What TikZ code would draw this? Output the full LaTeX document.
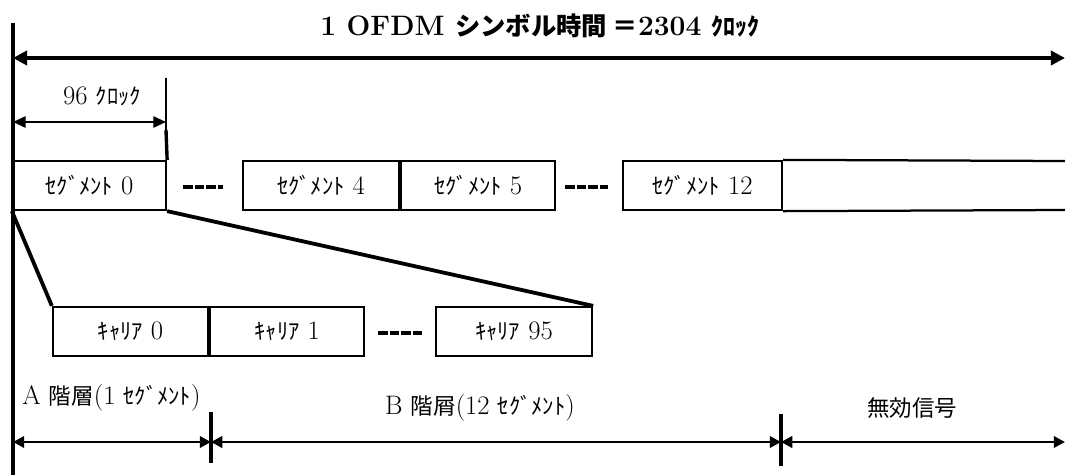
\documentclass[tikz,border=0pt]{standalone}
\usepackage{fontspec}
\newfontfamily\jpfont{Noto Sans CJK JP}
\usetikzlibrary{arrows.meta}
\tikzset{cell/.style = {draw, line width = 1.6pt, minimum height = 1.225cm, inner sep = 0, font = \fontsize{19}{21}\selectfont}}
\tikzset{lbl/.style = {inner sep = 0, font = \fontsize{19}{21}\selectfont}}
\tikzset{dots/.style = {line width = 2.6pt, dash pattern = on 7pt off 1.2pt}}
\tikzset{heavy/.style = {line width = 2.7pt}}
\tikzset{dimline/.style = {line width = 2pt, {Triangle[length = 8pt, width = 8pt]}-{Triangle[length = 8pt, width = 8pt]}}}
\newcommand{\segtxt}[1]{{\jpfont\fontsize{16}{18}\selectfont ｾｸﾞﾒﾝﾄ} #1}
\newcommand{\cartxt}[1]{{\jpfont\fontsize{16}{18}\selectfont ｷｬﾘｱ} #1}
\newcommand{\jpsmall}[1]{{\jpfont\fontsize{16}{18}\selectfont #1}}

\begin{document}
\begin{tikzpicture}[x = 0.025cm, y = -0.025cm]
    \useasboundingbox (0, 0) rectangle (1065, 475);

    \node [inner sep = 0, font = \fontsize{20}{22}\selectfont\bfseries] (title) at (540, 26)
      {1 OFDM {\jpfont\fontsize{18}{20}\selectfont シンボル時間\ ＝}2304 {\jpfont\fontsize{17}{20}\selectfont ｸﾛｯｸ}};

    \coordinate (ltop) at (13, 23);
    \coordinate (lbot) at (13, 475);
    \draw [heavy] (ltop) -- (lbot);

    \coordinate (topL) at (13, 58);
    \coordinate (topR) at (1065, 58);
    \draw [heavy, {Triangle[length = 10pt, width = 10pt]}-{Triangle[length = 10pt, width = 10pt]}] (topL) -- (topR);

    \node [cell, minimum width = 3.825cm] (seg0) at (89.5, 185.5) {\segtxt{0}};
    \node [cell, minimum width = 3.9cm] (seg4) at (321, 185.5) {\segtxt{4}};
    \node [cell, minimum width = 3.85cm, anchor = west] (seg5) at (seg4.east) {\segtxt{5}};
    \node [cell, minimum width = 3.975cm] (seg12) at (702.5, 185.5) {\segtxt{12}};
    \coordinate (restT) at (1065, 161);
    \coordinate (restB) at (1065, 210);
    \draw [line width = 1.6pt] (seg12.north east) -- (restT);
    \draw [line width = 1.6pt] (seg12.south east) -- (restB);

    \draw [dots] (183, 187) -- (223, 187);
    \draw [dots] (565, 187) -- (608, 187);

    \node [lbl] (clk) at (102, 96) {96 \jpsmall{ｸﾛｯｸ}};
    \coordinate (clkL) at (13, 122);
    \coordinate (clkR) at (166, 122);
    \draw [line width = 1.4pt, {Triangle[length = 9pt, width = 8pt]}-{Triangle[length = 9pt, width = 8pt]}] (clkL) -- (clkR);
    \draw [line width = 1pt] (166, 78) -- (166, 132);
    \draw [line width = 2.4pt] (166, 130) -- (seg0.north east);

    \node [cell, minimum width = 3.875cm] (car0) at (130.5, 331.5) {\cartxt{0}};
    \node [cell, minimum width = 3.85cm, anchor = west] (car1) at (car0.east) {\cartxt{1}};
    \node [cell, minimum width = 3.9cm] (car95) at (514, 331.5) {\cartxt{95}};
    \draw [dots] (378, 333) -- (422, 333);

    \draw [heavy] (seg0.south west) -- (car0.north west);
    \draw [heavy] (seg0.south east) -- (car95.north east);

    \node [lbl, anchor = west] (laya) at (22, 398) {A \jpsmall{階層}(1 \jpsmall{ｾｸﾞﾒﾝﾄ})};
    \node [lbl] (layb) at (480, 408) {B \jpsmall{階屑}(12 \jpsmall{ｾｸﾞﾒﾝﾄ})};
    \node [lbl] (void) at (912, 408) {\jpsmall{無効信号}};

    \coordinate (bA) at (13, 442);
    \coordinate (bB) at (211, 442);
    \coordinate (bC) at (781, 442);
    \coordinate (bD) at (1065, 442);
    \draw [dimline] (bA) -- (bB);
    \draw [dimline] (bB) -- (bC);
    \draw [dimline] (bC) -- (bD);
    \draw [line width = 2.2pt] (211, 412) -- (211, 463);
    \draw [line width = 2.2pt] (781, 414) -- (781, 466);
\end{tikzpicture}
\end{document}
